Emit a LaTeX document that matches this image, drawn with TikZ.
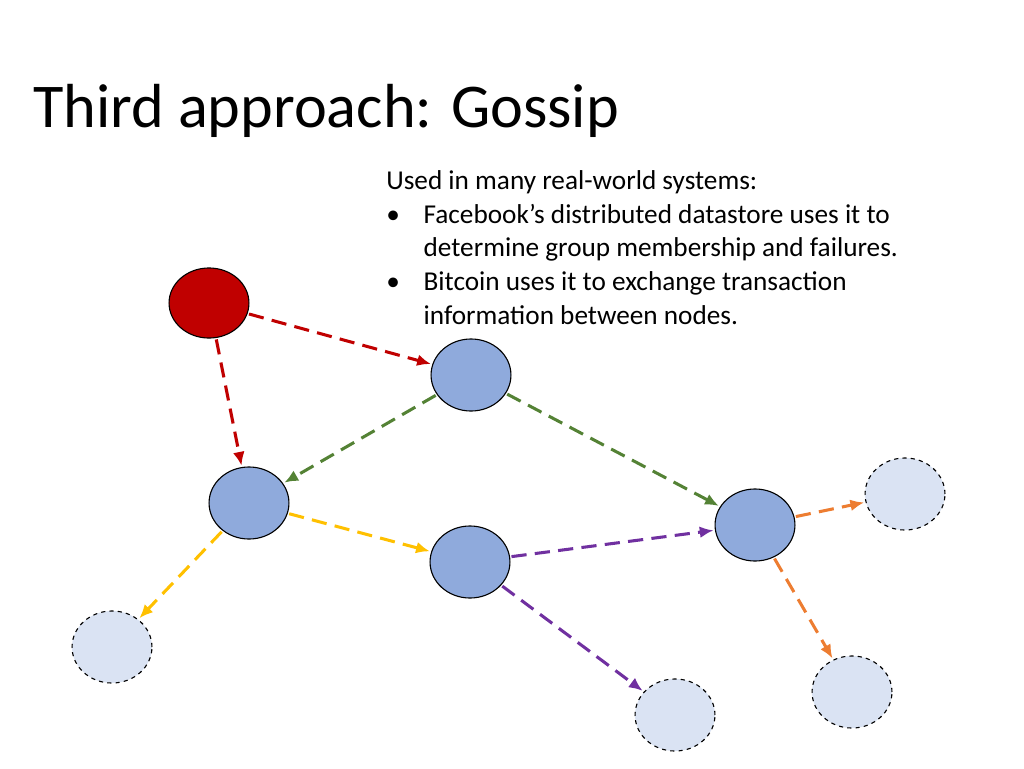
\documentclass[tikz,border=0pt]{standalone}
\usepackage{fontspec}
\setmainfont{Carlito}
\usetikzlibrary{arrows.meta,shapes.geometric}
\definecolor{nodeblue}{HTML}{8FAADC}
\definecolor{ghostblue}{HTML}{DAE3F3}
\definecolor{gred}{HTML}{C00000}
\definecolor{ggreen}{HTML}{548235}
\definecolor{gyellow}{HTML}{FFC000}
\definecolor{gpurple}{HTML}{7030A0}
\definecolor{gorange}{HTML}{ED7D31}
\begin{document}
\begin{tikzpicture}[x=0.0254cm,y=-0.0254cm,
  proc/.style={ellipse, draw=black, thick, fill=nodeblue,
     minimum width=2.03cm, minimum height=1.83cm},
  ghost/.style={proc, dashed, fill=ghostblue},
  msg/.style={-{Latex[length=3.5mm,width=3mm]}, line width=2.2pt,
     dash pattern=on 11pt off 6pt, shorten <=1pt, shorten >=1pt}]
\useasboundingbox (0,0) rectangle (1024,768);
% nodes
\node[proc, fill=gred, minimum height=1.78cm] (src) at (209,303) {};
\node[proc] (pa) at (471,375) {};
\node[proc] (pb) at (249,503) {};
\node[proc] (pc) at (470,562) {};
\node[proc] (pd) at (755,525) {};
\node[ghost] (ga) at (905,494) {};
\node[ghost] (gb) at (112,647) {};
\node[ghost] (gc) at (675,715) {};
\node[ghost] (gd) at (852,692) {};
% messages
\draw[msg, gred] (src) -- (pa);
\draw[msg, gred] (src) -- (pb);
\draw[msg, ggreen] (pa) -- (pb);
\draw[msg, ggreen] (pa) -- (pd);
\draw[msg, gyellow] (pb) -- (pc);
\draw[msg, gyellow] (pb) -- (gb);
\draw[msg, gpurple] (pc) -- (pd);
\draw[msg, gpurple] (pc) -- (gc);
\draw[msg, gorange] (pd) -- (ga);
\draw[msg, gorange] (pd) -- (gd);
% text
\node[anchor=base west, inner sep=0pt, font=\fontsize{45}{50}\selectfont] (title) at (33,127) {Third approach: Gossip};
\node[anchor=north west, inner sep=0pt, align=left, font=\fontsize{19.7}{24.5}\selectfont] (notes) at (386,170)
  {Used in many real-world systems:\\
   \makebox[27pt][l]{\textbullet}Facebook’s distributed datastore uses it to\\
   \hspace*{27pt}determine group membership and failures.\\
   \makebox[27pt][l]{\textbullet}Bitcoin uses it to exchange transaction\\
   \hspace*{27pt}information between nodes.};
\end{tikzpicture}
\end{document}
